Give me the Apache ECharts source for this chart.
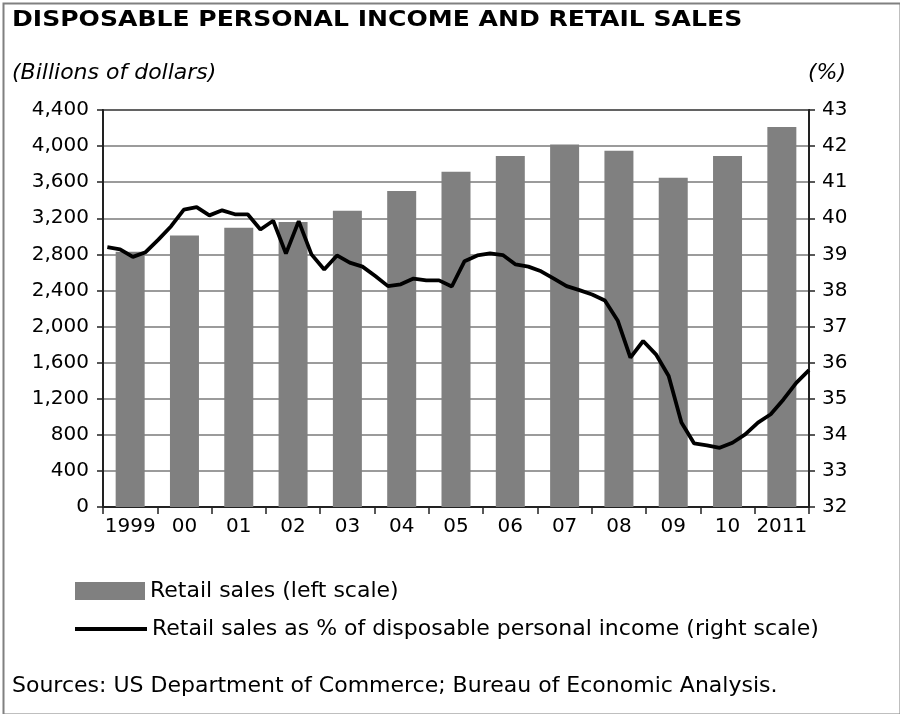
<!DOCTYPE html>
<html>
<head>
<meta charset="utf-8">
<script src="https://cdn.jsdelivr.net/npm/echarts@6/dist/echarts.min.js"></script>
<style>
html,body{margin:0;padding:0;background:#fff;}
#chart{width:900px;height:714px;}
</style>
</head>
<body>
<div id="chart"></div>
<script>
// ---- data ----
const years = ['1999','00','01','02','03','04','05','06','07','08','09','10','2011'];
const retailSales = [2830, 3010, 3095, 3158, 3283, 3501, 3715, 3889, 4019, 3948, 3649, 3889, 4211];
const pctOfIncome = [
  39.20, 39.14, 38.93, 39.06, 39.41, 39.78, 40.24, 40.31, 40.08, 40.22,
  40.11, 40.11, 39.69, 39.93, 39.02, 39.92, 39.00, 38.58, 38.97, 38.77,
  38.66, 38.40, 38.12, 38.17, 38.33, 38.28, 38.28, 38.11, 38.81, 38.97,
  39.03, 38.98, 38.72, 38.66, 38.53, 38.33, 38.12, 38.01, 37.89, 37.72,
  37.17, 36.14, 36.60, 36.23, 35.63, 34.34, 33.76, 33.71, 33.64, 33.78,
  34.01, 34.34, 34.57, 34.98, 35.44, 35.79
];
const leftTicks = {min: 0, max: 4400, interval: 400};
const rightTicks = {min: 32, max: 43, interval: 1};
const titleText = 'DISPOSABLE PERSONAL INCOME AND RETAIL SALES';
const leftUnit = '(Billions of dollars)';
const rightUnit = '(%)';
const barName = 'Retail sales (left scale)';
const lineName = 'Retail sales as % of disposable personal income (right scale)';
const sourceText = 'Sources: US Department of Commerce; Bureau of Economic Analysis.';

const FONT = 'DejaVu Sans';
const linePoints = pctOfIncome.map((v, i) => [i, v]);

const chart = echarts.init(document.getElementById('chart'), null, {renderer: 'canvas'});
chart.setOption({
  backgroundColor: '#ffffff',
  animation: false,
  grid: {left: 103, top: 110, width: 706, height: 397, show: true, borderColor: '#222', borderWidth: 2, containLabel: false},
  legend: [
    {data: [barName], left: 75, top: 580, orient: 'vertical', padding: 0,
     itemWidth: 70, itemHeight: 18, icon: 'rect', itemGap: 5,
     textStyle: {fontFamily: FONT, fontSize: 22, color: '#000'}},
    {data: [lineName], left: 75, top: 618, orient: 'vertical', padding: 0,
     itemWidth: 72, itemHeight: 4, icon: 'rect', itemGap: 3,
     textStyle: {fontFamily: FONT, fontSize: 22, color: '#000'}}
  ],
  xAxis: [
    {type: 'category', data: years, boundaryGap: true,
     axisLine: {onZero: false, lineStyle: {color: '#222', width: 2}},
     axisTick: {show: true, length: 7, lineStyle: {color: '#222', width: 1.5}},
     axisLabel: {interval: 0, fontFamily: FONT, fontSize: 20, color: '#000', margin: 10},
     splitLine: {show: false}},
    {type: 'value', min: -0.34, max: 55, show: false}
  ],
  yAxis: [
    {type: 'value', position: 'left', min: leftTicks.min, max: leftTicks.max, interval: leftTicks.interval,
     axisLine: {show: true, onZero: false, lineStyle: {color: '#222', width: 2}},
     axisTick: {show: true, length: 6, lineStyle: {color: '#222', width: 1.5}},
     axisLabel: {fontFamily: FONT, fontSize: 20, color: '#000', margin: 14,
       formatter: v => v.toLocaleString('en-US')},
     splitLine: {show: true, lineStyle: {color: '#7a7a7a', width: 1.5}}},
    {type: 'value', position: 'right', min: rightTicks.min, max: rightTicks.max, interval: rightTicks.interval,
     axisLine: {show: true, onZero: false, lineStyle: {color: '#222', width: 2}},
     axisTick: {show: true, length: 6, lineStyle: {color: '#222', width: 1.5}},
     axisLabel: {fontFamily: FONT, fontSize: 20, color: '#000', margin: 13},
     splitLine: {show: false}}
  ],
  series: [
    {name: barName, type: 'bar', data: retailSales, xAxisIndex: 0, yAxisIndex: 0,
     barWidth: 29, itemStyle: {color: '#808080'}, z: 2},
    {name: lineName, type: 'line', data: linePoints, xAxisIndex: 1, yAxisIndex: 1,
     symbol: 'none', smooth: false, lineStyle: {color: '#000', width: 3.8},
     itemStyle: {color: '#000'}, z: 5}
  ],
  graphic: [
    {type: 'rect', left: 1, top: 1, shape: {x: 0, y: 0, width: 897, height: 711},
     style: {fill: null, stroke: '#808080', lineWidth: 2}, z: 0, silent: true},
    {type: 'text', x: 12, y: 20, scaleX: 1.14, style: {text: titleText, fontFamily: FONT, fontWeight: 'bold', fontSize: 22,
     fill: '#000', textVerticalAlign: 'middle'}},
    {type: 'text', x: 12, y: 73, style: {text: leftUnit, fontFamily: FONT, fontStyle: 'italic', fontSize: 22,
     fill: '#000', textVerticalAlign: 'middle'}},
    {type: 'text', x: 808, y: 73, style: {text: rightUnit, fontFamily: FONT, fontStyle: 'italic', fontSize: 22,
     fill: '#000', textVerticalAlign: 'middle'}},
    {type: 'text', x: 12, y: 686, style: {text: sourceText, fontFamily: FONT, fontSize: 22,
     fill: '#000', textVerticalAlign: 'middle'}}
  ]
});
</script>
</body>
</html>
